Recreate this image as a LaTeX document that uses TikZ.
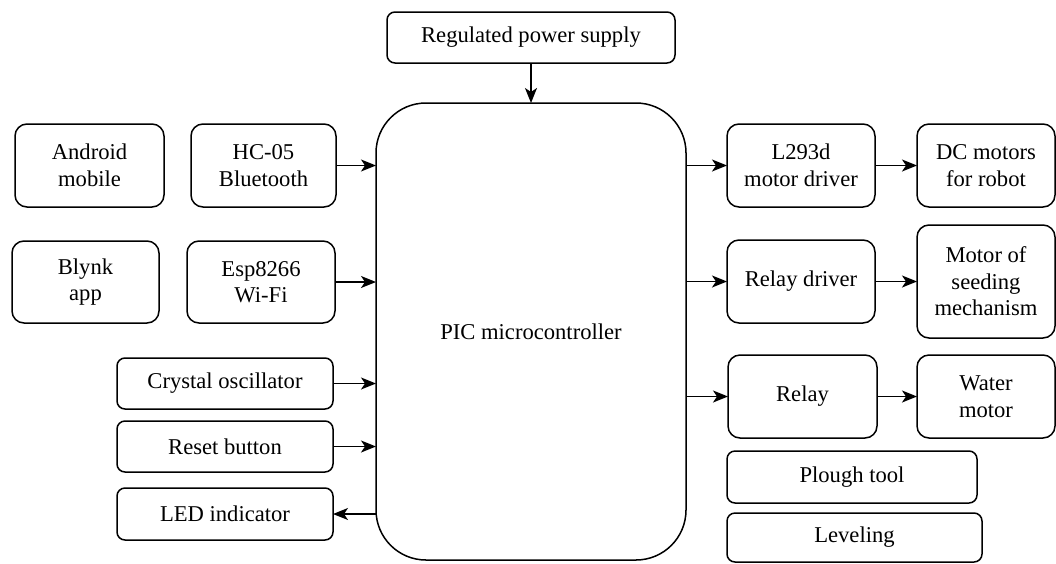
\documentclass[tikz,border=0pt]{standalone}
\usepackage{fontspec}
\setmainfont{LiberationSerif-Regular.ttf}[BoldFont=LiberationSerif-Bold.ttf]
\usetikzlibrary{arrows.meta}
\begin{document}
\begin{tikzpicture}[x=1pt,y=-1pt,
  box/.style={draw, line width=1.5pt, rounded corners=12pt, inner sep=0pt, outer sep=0pt,
    align=center, font=\fontsize{22.6}{26.5}\selectfont},
  smallbox/.style={box, rounded corners=8pt},
  arr/.style={line width=1.5pt, -{Stealth[length=15pt,width=12pt,inset=4pt]}}]
\useasboundingbox (0,0) rectangle (1056,563);
\node[smallbox, minimum width=288pt, minimum height=51pt] (psu) at (531,37.5) {Regulated power supply};
\node[box, rounded corners=50pt, minimum width=310pt, minimum height=457pt] (pic) at (531,331.5) {PIC microcontroller};
\node[box, minimum width=149pt, minimum height=83pt] (android) at (89.5,165.5) {Android\\mobile};
\node[box, minimum width=145pt, minimum height=83pt] (hc) at (263.5,165.5) {HC-05\\Bluetooth};
\node[box, minimum width=147pt, minimum height=82pt] (blynk) at (85.5,282) {Blynk\\app};
\node[box, minimum width=148pt, minimum height=82pt] (esp) at (261,282) {Esp8266\\Wi-Fi};
\node[smallbox, minimum width=216pt, minimum height=51pt] (crystal) at (225,383.5) {Crystal oscillator};
\node[smallbox, minimum width=216pt, minimum height=51pt] (reset) at (225,446.5) {Reset button};
\node[smallbox, minimum width=216pt, minimum height=52pt] (led) at (225,514) {LED indicator};
\node[box, minimum width=148pt, minimum height=83pt] (l293) at (801,165.5) {L293d\\motor driver};
\node[box, minimum width=138pt, minimum height=83pt] (dc) at (986,165.5) {DC motors\\for robot};
\node[box, minimum width=148pt, minimum height=83pt] (rdrv) at (801,281.5) {Relay driver};
\node[box, minimum width=138pt, minimum height=113pt] (seed) at (986,281.5) {Motor of\\seeding\\mechanism};
\node[box, minimum width=149pt, minimum height=83pt] (relay) at (802.5,396.5) {Relay};
\node[box, minimum width=138pt, minimum height=83pt] (water) at (986,396.5) {Water\\motor};
\node[smallbox, minimum width=250pt, minimum height=52pt] (plough) at (852,477) {Plough tool};
\node[smallbox, minimum width=255pt, minimum height=49pt] (level) at (854.5,537.5) {Leveling};
\draw[arr] (psu.south) -- (pic.north);
\draw[arr] (hc.east) -- (hc.east -| pic.west);
\draw[arr] (esp.east) -- (esp.east -| pic.west);
\draw[arr] (crystal.east) -- (crystal.east -| pic.west);
\draw[arr] (reset.east) -- (reset.east -| pic.west);
\draw[arr] (led.east -| pic.west) -- (led.east);
\draw[arr] (l293.west -| pic.east) -- (l293.west);
\draw[arr] (rdrv.west -| pic.east) -- (rdrv.west);
\draw[arr] (relay.west -| pic.east) -- (relay.west);
\draw[arr] (l293.east) -- (dc.west);
\draw[arr] (rdrv.east) -- (seed.west);
\draw[arr] (relay.east) -- (water.west);
\end{tikzpicture}
\end{document}
